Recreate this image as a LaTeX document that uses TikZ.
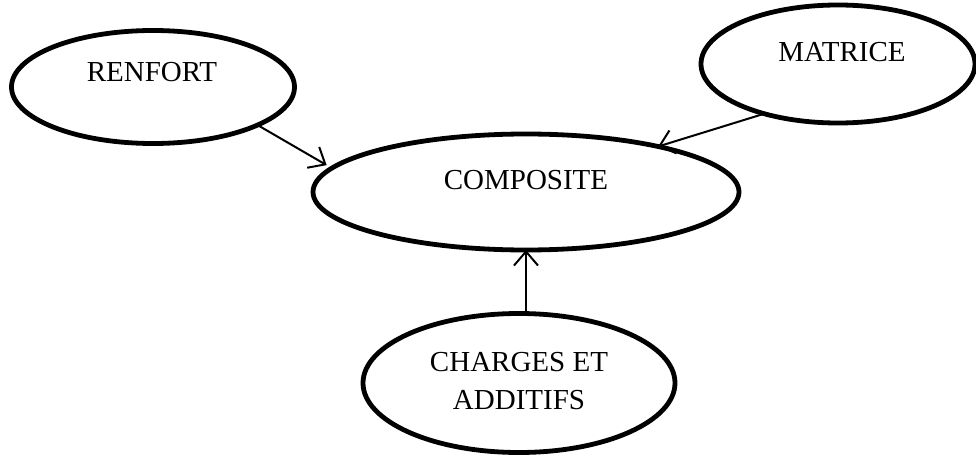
\documentclass[tikz,border=0pt]{standalone}
\usepackage{fontspec}
\setmainfont{Liberation Serif}
\usetikzlibrary{shapes.geometric,arrows.meta}
\begin{document}
\begin{tikzpicture}[x=0.5pt,y=-0.5pt,
  blob/.style={ellipse,draw,line width=2.4pt,inner sep=0pt,outer sep=0pt},
  lbl/.style={font=\fontsize{14.5}{19}\selectfont,align=center,inner sep=0pt},
  feed/.style={line width=1pt,-{Straight Barb[length=7pt,width=12pt,line width=1pt]}}]
\useasboundingbox (0,0) rectangle (976,455);
% component ellipses
\node[blob,minimum width=283pt*0.5,minimum height=113pt*0.5] (renfort) at (153,87) {};
\node[blob,minimum width=274pt*0.5,minimum height=118pt*0.5] (matrice) at (838,64) {};
\node[blob,minimum width=426pt*0.5,minimum height=116pt*0.5] (composite) at (526,192) {};
\node[blob,minimum width=312pt*0.5,minimum height=139pt*0.5] (charges) at (519,383) {};
% labels, set high in each ellipse
\node[lbl] (trenfort) at (152,72) {RENFORT};
\node[lbl] (tmatrice) at (842,52) {MATRICE};
\node[lbl] (tcomposite) at (526,180) {COMPOSITE};
\node[lbl] (tcharges) at (519,381) {CHARGES ET\\ADDITIFS};
% arrows into the composite
\draw[feed,shorten >=3pt] (renfort.-20) -- (composite.173);
\draw[feed] (matrice.214) -- (composite.19);
\draw[feed] (charges.north -| composite.south) -- (composite.south);
\end{tikzpicture}
\end{document}
